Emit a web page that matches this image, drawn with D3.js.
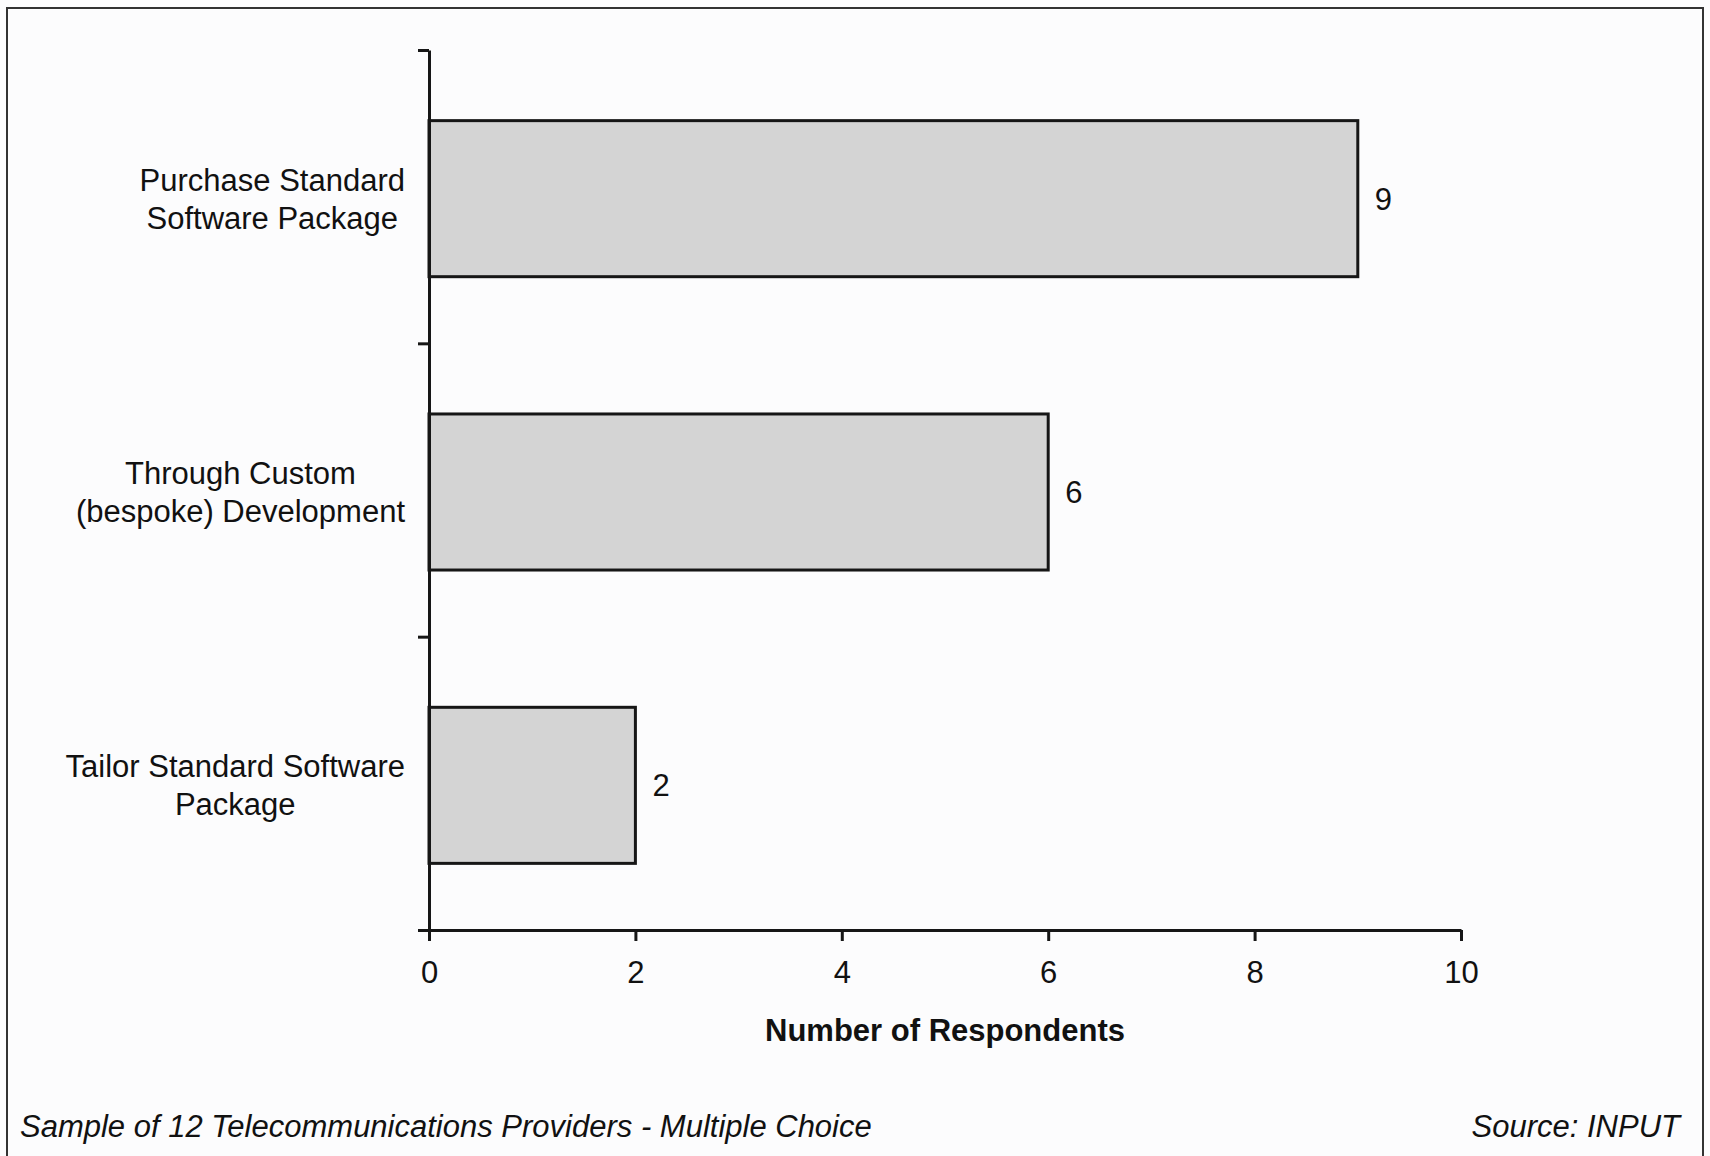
<!DOCTYPE html>
<html>
<head>
<meta charset="utf-8">
<script src="https://cdn.jsdelivr.net/npm/d3@7"></script>
<style>
  html, body { margin: 0; padding: 0; background: #fcfcfd; }
  svg { display: block; }
  text { font-family: "Liberation Sans", Arial, sans-serif; fill: #111; }
</style>
</head>
<body>
<svg id="chart" width="1710" height="1156"></svg>
<script>
// ---- data ----
const categories = [
  ["Purchase Standard", "Software Package"],
  ["Through Custom", "(bespoke) Development"],
  ["Tailor Standard Software", "Package"]
];
const values = [9, 6, 2];
const xTicks = [0, 2, 4, 6, 8, 10];
const xTitle = "Number of Respondents";
const footLeft = "Sample of 12 Telecommunications Providers - Multiple Choice";
const footRight = "Source: INPUT";

// ---- layout ----
const svg = d3.select("#chart");
const W = 1710, H = 1156;
const plot = { left: 429, right: 1461, top: 50, bottom: 930 };
const FS = 31;

svg.append("rect").attr("x", 0).attr("y", 0).attr("width", W).attr("height", H).attr("fill", "#fcfcfd");
// frame
svg.append("path")
  .attr("d", `M7,1160 V8 H1703 V1160`)
  .attr("fill", "none").attr("stroke", "#333").attr("stroke-width", 2);

const x = d3.scaleLinear().domain([0, 10]).range([plot.left, plot.right]);
const idx = categories.map((d, i) => i);
const y = d3.scaleBand().domain(idx).range([plot.top + 2, plot.bottom + 2]).paddingInner(0.468).paddingOuter(0.234);
const yEdge = d3.scaleLinear().domain([0, categories.length]).range([plot.top, plot.bottom]);

// bars
svg.append("g").selectAll("rect").data(values).join("rect")
  .attr("x", x(0))
  .attr("y", (d, i) => y(i))
  .attr("width", d => x(d) - x(0))
  .attr("height", y.bandwidth())
  .attr("fill", "#d4d4d4")
  .attr("stroke", "#161616")
  .attr("stroke-width", 3);

// value labels
svg.append("g").selectAll("text").data(values).join("text")
  .attr("x", d => x(d) + 17)
  .attr("y", (d, i) => y(i) + y.bandwidth() / 2)
  .attr("dy", "0.35em")
  .attr("font-size", FS)
  .text(d => d);

// y axis (band edges as ticks)
const yAxis = svg.append("g").attr("transform", `translate(${plot.left},0)`)
  .call(d3.axisLeft(yEdge).tickValues(d3.range(categories.length + 1)).tickFormat("").tickSize(11).tickSizeOuter(0));
yAxis.select(".domain").attr("stroke", "#161616").attr("stroke-width", 3);
yAxis.selectAll(".tick line").attr("stroke", "#161616").attr("stroke-width", 3);

// x axis
const xAxis = svg.append("g").attr("transform", `translate(0,${plot.bottom})`)
  .call(d3.axisBottom(x).tickValues(xTicks).tickSize(11).tickSizeOuter(0).tickPadding(20));
xAxis.select(".domain").attr("stroke", "#161616").attr("stroke-width", 3);
xAxis.selectAll(".tick line").attr("stroke", "#161616").attr("stroke-width", 3);
xAxis.selectAll(".tick text").attr("font-size", FS).attr("fill", "#111")
  .attr("font-family", "'Liberation Sans', Arial, sans-serif");

// category labels: block right-aligned, lines centered
const labelRight = 405;
const lineGap = 38;
categories.forEach((lines, i) => {
  const g = svg.append("g");
  const cy = y(i) + y.bandwidth() / 2;
  const texts = lines.map((ln, k) => g.append("text")
    .attr("font-size", FS)
    .attr("text-anchor", "middle")
    .attr("y", cy + (k - (lines.length - 1) / 2) * lineGap)
    .attr("dy", "0.35em")
    .text(ln));
  const maxW = d3.max(texts, t => t.node().getComputedTextLength());
  texts.forEach(t => t.attr("x", labelRight - maxW / 2));
});

// axis title
svg.append("text")
  .attr("x", (plot.left + plot.right) / 2)
  .attr("y", 1030)
  .attr("dy", "0.35em")
  .attr("text-anchor", "middle")
  .attr("font-size", FS)
  .attr("font-weight", "bold")
  .text(xTitle);

// footers
svg.append("text").attr("x", 20).attr("y", 1126).attr("dy", "0.35em")
  .attr("font-size", FS).attr("font-style", "italic").text(footLeft);
svg.append("text").attr("x", 1680).attr("y", 1126).attr("dy", "0.35em")
  .attr("text-anchor", "end")
  .attr("font-size", FS).attr("font-style", "italic").text(footRight);
</script>
</body>
</html>
